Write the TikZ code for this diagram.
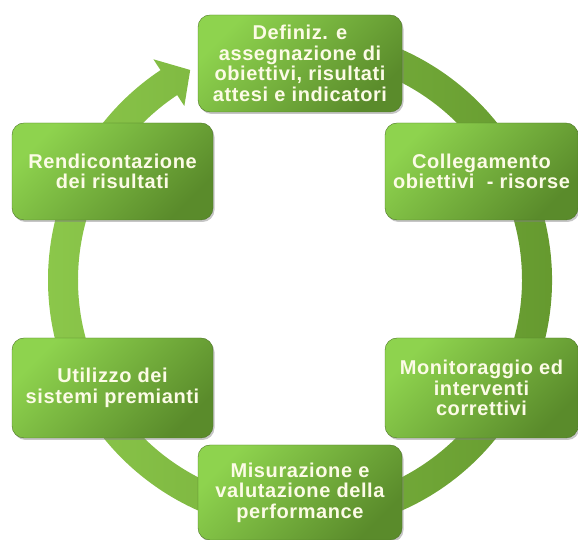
\documentclass[tikz,border=0pt]{standalone}
\usepackage{fontspec}
\setmainfont{Liberation Sans}
\newfontfamily\stagefont[LetterSpace=3]{Liberation Sans}
\usetikzlibrary{shadows}
\definecolor{ringL}{HTML}{8CC84B}
\definecolor{ringR}{HTML}{64982E}
\definecolor{boxL}{HTML}{8ED34E}
\definecolor{boxD}{HTML}{5A8B2B}
\definecolor{txt}{HTML}{FCFBE6}
\begin{document}
\begin{tikzpicture}[x=1pt,y=1pt,
  stage/.style={rounded corners=12pt, top color=boxL, bottom color=boxD, shading angle=45,
    draw=boxD!85!black, line width=0.4pt,
    drop shadow={shadow xshift=1.5pt, shadow yshift=-2pt, opacity=0.45},
    text=txt, font=\stagefont\bfseries\fontsize{20}{20.5}\selectfont, align=center, inner sep=0pt}]
\useasboundingbox (0,0) rectangle (578,540);
\coordinate (c) at (300,260);
\path[left color=ringL, right color=ringR, shift={(c)}]
  (100:252) arc[start angle=100, end angle=-236.4, radius=252]
  -- (-236.4:265) -- (-242.4:237) -- (-236.4:209) -- (-236.4:222)
  arc[start angle=-236.4, end angle=100, radius=222] -- cycle;
\node[stage, minimum width=204pt, minimum height=97pt] (def) at (300,476.5)
  {Definiz. e\\assegnazione di\\obiettivi, risultati\\attesi e indicatori};
\node[stage, minimum width=193pt, minimum height=97pt] (coll) at (481.5,368.5)
  {Collegamento\\obiettivi \ - risorse};
\node[stage, minimum width=201pt, minimum height=97pt] (rend) at (112.5,368.5)
  {Rendicontazione\\dei risultati};
\node[stage, minimum width=201pt, minimum height=100pt] (util) at (112.5,152)
  {Utilizzo dei\\sistemi premianti};
\node[stage, minimum width=193pt, minimum height=100pt] (mon) at (481.5,152)
  {Monitoraggio ed\\interventi\\correttivi};
\node[stage, minimum width=204pt, minimum height=95pt] (mis) at (300,47.5)
  {Misurazione e\\valutazione della\\performance};
\end{tikzpicture}
\end{document}
